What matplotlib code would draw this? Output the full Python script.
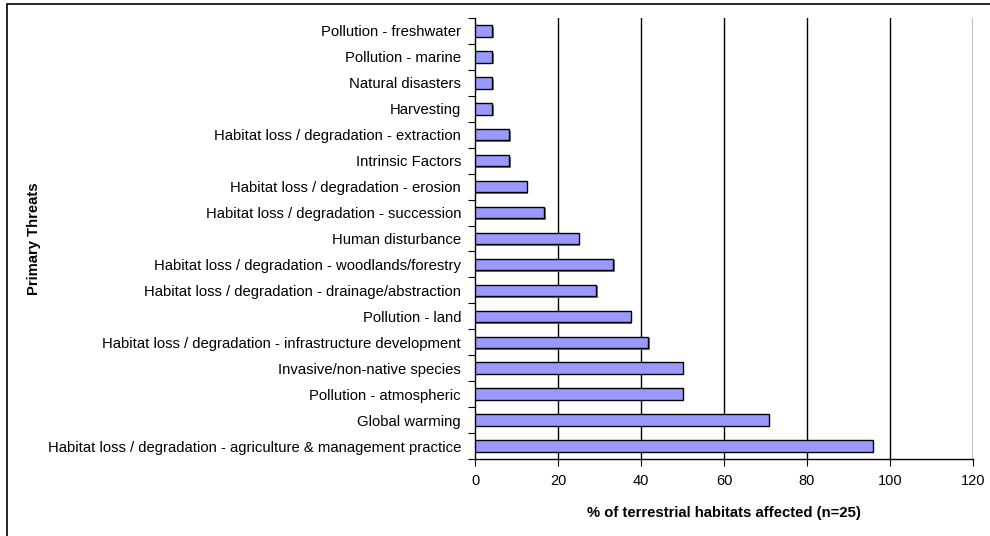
import matplotlib

matplotlib.use("Agg")

import matplotlib.pyplot as plt
from matplotlib.patches import Rectangle

plt.rcParams["font.family"] = ["Liberation Sans", "DejaVu Sans"]

# bottom to top, as drawn
threats = [
    "Habitat loss / degradation - agriculture & management practice",
    "Global warming",
    "Pollution - atmospheric",
    "Invasive/non-native species",
    "Habitat loss / degradation - infrastructure development",
    "Pollution - land",
    "Habitat loss / degradation - drainage/abstraction",
    "Habitat loss / degradation - woodlands/forestry",
    "Human disturbance",
    "Habitat loss / degradation - succession",
    "Habitat loss / degradation - erosion",
    "Intrinsic Factors",
    "Habitat loss / degradation - extraction",
    "Harvesting",
    "Natural disasters",
    "Pollution - marine",
    "Pollution - freshwater",
]
pct_affected = [95.8, 70.8, 50.0, 50.0, 41.7, 37.5, 29.2, 33.3, 25.0,
                16.7, 12.5, 8.3, 8.3, 4.2, 4.2, 4.2, 4.2]
x_ticks = [0, 20, 40, 60, 80, 100, 120]

fig = plt.figure(figsize=(9.9, 5.36), dpi=100)
fig.patch.set_facecolor("white")

# outer chart frame (left and top visible)
fig.patches.append(Rectangle((7 / 990, -0.1), 1.1, 1.1 - 4 / 536,
                             transform=fig.transFigure, fill=False,
                             edgecolor="black", linewidth=1.2))

ax = fig.add_axes([475 / 990, 1 - 459 / 536, 498 / 990, 441 / 536])
y = list(range(len(threats)))

# shadow then bars
ax.barh([v - 0.06 for v in y], [p + 0.35 for p in pct_affected], height=0.44,
        color="#777777", zorder=2)
ax.barh(y, pct_affected, height=0.44, color="#9999FF", edgecolor="black",
        linewidth=1.0, zorder=3)

ax.set_xlim(0, 120)
ax.set_ylim(-0.5, len(threats) - 0.5)
ax.set_xticks(x_ticks)
ax.set_xticklabels([str(t) for t in x_ticks], fontsize=10.5)
ax.set_yticks(y)
ax.set_yticklabels(threats, fontsize=10.7)
ax.tick_params(axis="y", length=0, pad=10)
ax.set_yticks([v - 0.5 for v in y] + [len(threats) - 0.5], minor=True)
ax.tick_params(axis="y", which="minor", length=5, direction="out", width=0.8)
ax.tick_params(axis="x", length=5, direction="out", width=0.8, pad=6)

for t in x_ticks[1:-1]:
    ax.axvline(t, color="black", linewidth=1.0, zorder=1)
ax.axvline(120, color="#c0c0c0", linewidth=1.5, zorder=1)

for side in ["top", "right"]:
    ax.spines[side].set_visible(False)
ax.spines["left"].set_linewidth(1.0)
ax.spines["bottom"].set_linewidth(1.0)

ax.set_xlabel("% of terrestrial habitats affected (n=25)", fontsize=10.7,
              fontweight="bold", labelpad=13)
fig.text(34 / 990, 1 - 239 / 536, "Primary Threats", rotation=90, fontsize=10.7,
         fontweight="bold", ha="center", va="center")

fig.savefig("out.png", dpi=100)
